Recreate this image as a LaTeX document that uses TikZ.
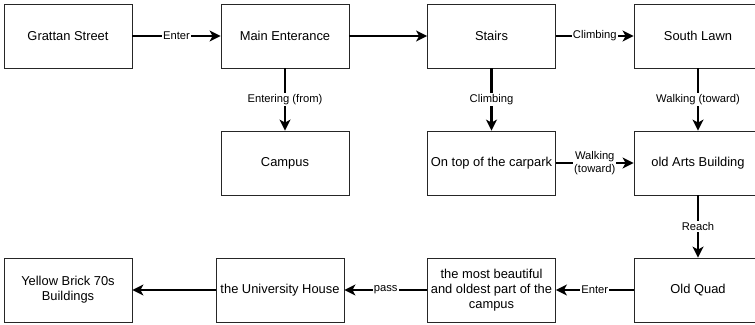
\documentclass[tikz,border=0pt]{standalone}
\usepackage{fontspec}
\setmainfont{Liberation Sans}
\usetikzlibrary{arrows.meta}

\begin{document}
\begin{tikzpicture}[x=1pt,y=-1pt,
    place/.style={draw=black!85,line width=0.8pt,minimum width=128pt,minimum height=64pt,
      inner sep=0pt,align=center,font=\fontsize{12.9}{15}\selectfont},
    walk/.style={line width=2.2pt,-{Stealth[length=11pt,width=11pt,inset=3pt]}},
    tag/.style={fill=white,inner sep=1pt,align=center,font=\fontsize{11.2}{13}\selectfont}]
  \useasboundingbox (0,0) rectangle (755,324);
  \clip (0,0) rectangle (755,324);
  % top row
  \node[place](grattan)at(68,36){Grattan Street};
  \node[place](main)at(285,36){Main Enterance};
  \node[place](stairs)at(491.5,36){Stairs};
  \node[place](lawn)at(698,36){South Lawn};
  % middle row
  \node[place](campus)at(285,163){Campus};
  \node[place](carpark)at(491.5,163){On top of the carpark};
  \node[place](arts)at(698,163){old Arts Building};
  % bottom row
  \node[place](yellow)at(68,290){Yellow Brick 70s\\Buildings};
  \node[place](house)at(280,290){the University House};
  \node[place](oldest)at(491.5,290){the most beautiful\\and oldest part of the\\campus};
  \node[place](quad)at(698,290){Old Quad};
  % connectors
  \draw[walk] (grattan) -- node[tag]{Enter} (main);
  \draw[walk] (main) -- (stairs);
  \draw[walk] (stairs) -- node[tag]{Climbing} (lawn);
  \draw[walk] (main) -- node[tag]{Entering (from)} (campus);
  \draw[walk] (stairs) -- node[tag]{Climbing} (carpark);
  \draw[walk] (lawn) -- node[tag]{Walking (toward)} (arts);
  \draw[walk] (carpark) -- node[tag]{Walking\\(toward)} (arts);
  \draw[walk] (arts) -- node[tag]{Reach} (quad);
  \draw[walk] (quad) -- node[tag]{Enter} (oldest);
  \draw[walk] (oldest) -- node[tag]{pass} (house);
  \draw[walk] (house) -- (yellow);
\end{tikzpicture}
\end{document}
